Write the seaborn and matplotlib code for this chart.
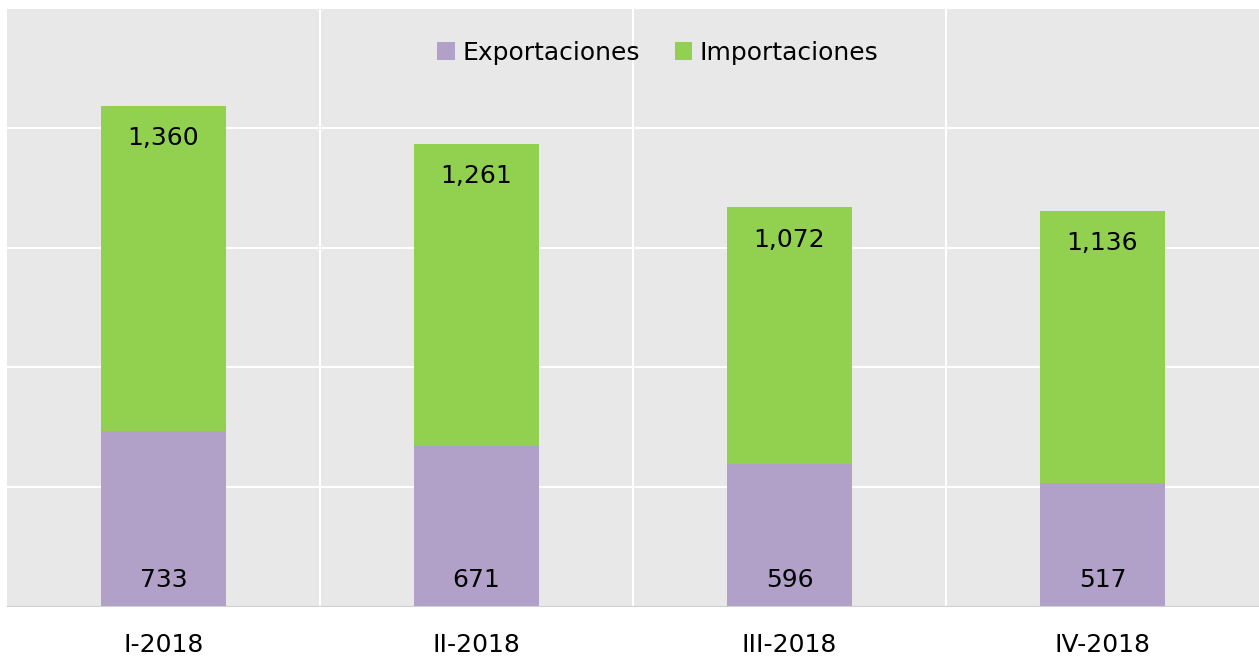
import numpy as np
import pandas as pd
import seaborn as sns
import matplotlib.pyplot as plt

# Datos por trimestre
trimestres = ['I-2018', 'II-2018', 'III-2018', 'IV-2018']
exportaciones = [733, 671, 596, 517]
importaciones = [1360, 1261, 1072, 1136]

color_exp = '#B1A0C7'
color_imp = '#92D050'

sns.set_style('darkgrid', {'axes.facecolor': '#E8E8E8', 'grid.color': 'white'})
plt.rcParams['font.family'] = ['DejaVu Sans']
plt.rcParams['text.color'] = 'black'

fig = plt.figure(figsize=(12.59, 6.6), dpi=100)
ax = fig.add_axes([7 / 1259, 53 / 660, 1252 / 1259, 599 / 660])

df = pd.DataFrame({'trimestre': trimestres, 'exp': exportaciones, 'imp': importaciones})

sns.barplot(data=df, x='trimestre', y='exp', color=color_exp, width=0.4,
            saturation=1, linewidth=0, ax=ax, label='Exportaciones')
sns.barplot(data=df, x='trimestre', y='imp', bottom=df['exp'], color=color_imp,
            width=0.4, saturation=1, linewidth=0, ax=ax, label='Importaciones')

# etiquetas de valores
for i, (e, m) in enumerate(zip(exportaciones, importaciones)):
    ax.text(i, 112, f'{e:,}', ha='center', va='center', fontsize=18, color='black')
    ax.text(i, e + m - 135, f'{m:,}', ha='center', va='center', fontsize=18, color='black')

ax.set_xlim(-0.5, 3.5)
ax.set_ylim(0, 2500)
ax.set_yticks(np.arange(0, 2501, 500))
ax.set_yticklabels([])
ax.set_xticks(range(4))
ax.set_xticks([0.5, 1.5, 2.5], minor=True)
ax.grid(False)
ax.grid(True, axis='y', which='major', color='white', linewidth=1.5)
ax.grid(True, axis='x', which='minor', color='white', linewidth=1.5)
ax.tick_params(axis='x', which='both', length=0, pad=19, labelsize=18, labelcolor='black')
ax.tick_params(axis='y', length=0)
ax.set_xlabel('')
ax.set_ylabel('')
for s in ax.spines.values():
    s.set_visible(False)
ax.axhline(0, color='#D0D0D0', linewidth=1.5)

leg = ax.legend(loc='center', bbox_to_anchor=(0.52, 0.925), ncol=2, frameon=False,
                fontsize=18, handlelength=0.7, handleheight=0.7, handletextpad=0.3,
                columnspacing=1.4)
for t in leg.get_texts():
    t.set_color('black')

fig.savefig('out.png', dpi=100)
